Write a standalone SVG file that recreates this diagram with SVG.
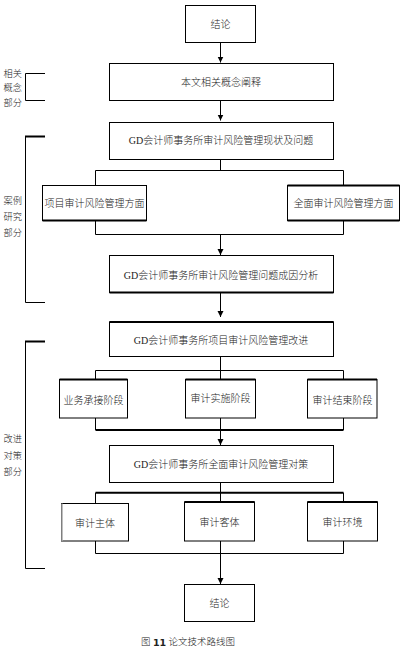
<svg xmlns="http://www.w3.org/2000/svg" width="404" height="650" viewBox="0 0 404 650">
<defs>
<marker id="ah" viewBox="0 0 6 8" refX="6" refY="4" markerWidth="6" markerHeight="8" markerUnits="userSpaceOnUse" orient="auto">
<path d="M0,1 L6,4 L0,7 Z" fill="#000"/>
</marker>
<style>
.box{fill:#fff;stroke:#000;stroke-width:1}
.ln{fill:none;stroke:#000;stroke-width:1}
.thk{fill:none;stroke:#000;stroke-width:2}
.arr{fill:none;stroke:#000;stroke-width:1;marker-end:url(#ah)}
.t{font-family:"Liberation Serif","Noto Sans CJK SC",serif;font-size:10px;font-weight:300;fill:#222;text-anchor:middle;dominant-baseline:central}
.side{font-family:"Liberation Serif","Noto Sans CJK SC",serif;font-size:9.2px;font-weight:300;fill:#222;text-anchor:start;dominant-baseline:central}
</style>
</defs>
<rect width="404" height="650" fill="#fff"/>

<g id="connectors">
<path class="arr" d="M220.5,42.5 V62.5"/>
<path class="arr" d="M220.5,100.5 V120.5"/>
<path class="ln" d="M220.5,159.5 V170.5 M95.5,185 V170.5 H343.5 V185"/>
<path class="ln" d="M95.5,221 V234.5 H343.5 V221"/>
<path class="arr" d="M220.5,234.5 V255"/>
<path class="arr" d="M220.5,293 V317"/>
<path class="ln" d="M220.5,357 V370.5 M95.5,379 V370.5 H343.5 V379 M220.5,370.5 V379"/>
<path class="ln" d="M95.5,418 V430 M343.5,418 V430 M220.5,418 V430"/>
<path class="thk" d="M95.5,430 H343.5"/>
<path class="arr" d="M220.5,430 V445"/>
<path class="ln" d="M220.5,482.5 V502 M95.5,503 V492.7 M343.5,502 V492.7"/>
<path class="thk" d="M95.5,492.7 H343.5"/>
<path class="ln" d="M95.5,541 V553.5 H343.5 V541 M220.5,541 V553.5"/>
<path class="arr" d="M220.5,553.5 V584"/>
</g>

<g id="bracket-concept">
<path class="ln" d="M45,73.5 H25.5 V100.5 H45"/>
<text class="side" x="3.5" y="74">相关</text>
<text class="side" x="3.5" y="88">概念</text>
<text class="side" x="3.5" y="103">部分</text>
</g>
<g id="bracket-case">
<path class="ln" d="M25.5,136.5 V302.5 H45"/>
<path class="thk" d="M25,136.5 H45"/>
<text class="side" x="3.5" y="201">案例</text>
<text class="side" x="3.5" y="217">研究</text>
<text class="side" x="3.5" y="233">部分</text>
</g>
<g id="bracket-improve">
<path class="ln" d="M25.5,341.5 V568.5 H45"/>
<path class="thk" d="M25,341.5 H45"/>
<text class="side" x="3.5" y="439">改进</text>
<text class="side" x="3.5" y="456">对策</text>
<text class="side" x="3.5" y="472">部分</text>
</g>

<g id="n-conclusion-top">
<rect class="box" x="185.5" y="5.5" width="70" height="37"/>
<text class="t" x="220.5" y="24">结论</text>
</g>
<g id="n-concept">
<rect class="box" x="109.5" y="63.5" width="224" height="37"/>
<text class="t" x="221" y="82">本文相关概念阐释</text>
</g>
<g id="n-status">
<rect class="box" x="109.5" y="122.5" width="224" height="37"/>
<text class="t" x="221" y="140">GD会计师事务所审计风险管理现状及问题</text>
</g>
<g id="n-project-aspect">
<rect class="box" x="42.5" y="185.5" width="104" height="35"/>
<path class="thk" d="M42.5,220.5 H146.5"/>
<text class="t" x="94.5" y="203">项目审计风险管理方面</text>
</g>
<g id="n-overall-aspect">
<rect class="box" x="287.5" y="185.5" width="112" height="35"/>
<path class="thk" d="M287.5,185.5 H399.5 M287.5,220.5 H399.5"/>
<text class="t" x="343.5" y="203">全面审计风险管理方面</text>
</g>
<g id="n-cause">
<rect class="box" x="109.5" y="255.5" width="224" height="37"/>
<path class="thk" d="M109.5,292.5 H333.5"/>
<text class="t" x="221" y="275">GD会计师事务所审计风险管理问题成因分析</text>
</g>
<g id="n-project-improve">
<rect class="box" x="109.5" y="322" width="224" height="34.5"/>
<path class="thk" d="M109.5,322 H333.5"/>
<text class="t" x="221" y="340">GD会计师事务所项目审计风险管理改进</text>
</g>
<g id="n-stage1">
<rect class="box" x="59.5" y="379.5" width="68" height="38.5"/>
<path class="thk" d="M59.5,379.5 H127.5"/>
<text class="t" x="93.5" y="400">业务承接阶段</text>
</g>
<g id="n-stage2">
<rect class="box" x="185.5" y="379.5" width="70" height="38.5"/>
<path class="thk" d="M185.5,379.5 H255.5"/>
<text class="t" x="220.5" y="398">审计实施阶段</text>
</g>
<g id="n-stage3">
<rect class="box" x="307.5" y="379.5" width="69.5" height="38.5"/>
<path class="thk" d="M307.5,379.5 H377"/>
<text class="t" x="342.5" y="400">审计结束阶段</text>
</g>
<g id="n-overall-measures">
<rect class="box" x="109.5" y="445.5" width="224" height="37"/>
<text class="t" x="221" y="464">GD会计师事务所全面审计风险管理对策</text>
</g>
<g id="n-subject">
<rect class="box" x="61.5" y="503.5" width="67" height="37.5"/>
<path d="M62,503.5 V541" stroke="#aaa" stroke-width="1.5"/>
<text class="t" x="95" y="523">审计主体</text>
</g>
<g id="n-object">
<rect class="box" x="184.5" y="502" width="70" height="39"/>
<path class="thk" d="M184.5,502 H254.5"/>
<text class="t" x="219.5" y="522">审计客体</text>
</g>
<g id="n-env">
<rect class="box" x="307.5" y="502" width="70" height="39"/>
<path class="thk" d="M307.5,502 H377.5"/>
<text class="t" x="342.5" y="522">审计环境</text>
</g>
<g id="n-conclusion-bottom">
<rect class="box" x="184.5" y="584.5" width="70" height="37"/>
<text class="t" x="219.5" y="603">结论</text>
</g>

<text class="t" x="188" y="642" style="font-size:9.5px">图 <tspan font-weight="bold" font-family="DejaVu Sans">11</tspan> 论文技术路线图</text>
</svg>
